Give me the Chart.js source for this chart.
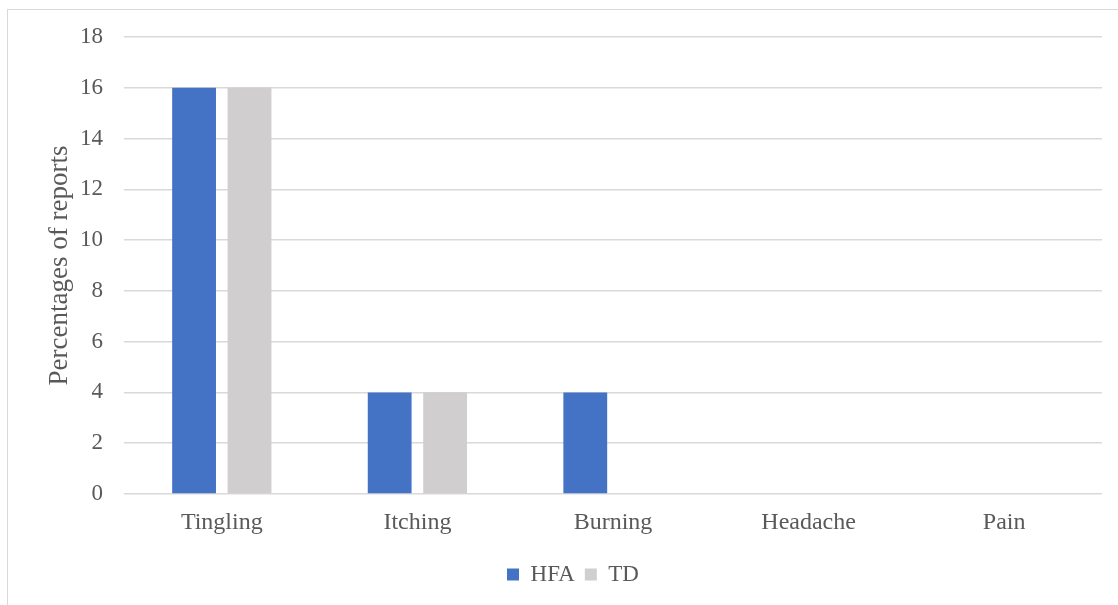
<!DOCTYPE html>
<html>
<head>
<meta charset="utf-8">
<script src="https://cdn.jsdelivr.net/npm/chart.js@4/dist/chart.umd.min.js"></script>
<style>
  html, body { margin: 0; padding: 0; background: #fff; }
  #wrap { position: relative; width: 1118px; height: 605px; overflow: hidden; }
  #frame { position: absolute; left: 7px; top: 9px; width: 1130px; height: 620px; border: 1px solid #d9d9d9; box-sizing: border-box; }
  canvas { position: absolute; left: 0; top: 0; }
</style>
</head>
<body>
<div id="wrap">
  <div id="frame"></div>
  <canvas id="chart" width="1118" height="605"></canvas>
</div>
<script>
// Chart data
const categories = ['Tingling', 'Itching', 'Burning', 'Headache', 'Pain'];
const hfaValues = [16, 4, 4, 0, 0];
const tdValues = [16, 4, 0, 0, 0];
const yTicks = [0, 2, 4, 6, 8, 10, 12, 14, 16, 18];

const textColor = '#595959';
const fontFamily = '"Liberation Serif", "Times New Roman", serif';

const ctx = document.getElementById('chart').getContext('2d');
new Chart(ctx, {
    type: 'bar',
    data: {
        labels: categories,
        datasets: [
            {
                label: 'HFA',
                data: hfaValues,
                backgroundColor: '#4472c4',
                barPercentage: 0.79,
                categoryPercentage: 0.567
            },
            {
                label: 'TD',
                data: tdValues,
                backgroundColor: '#d0cece',
                barPercentage: 0.79,
                categoryPercentage: 0.567
            }
        ]
    },
    options: {
        responsive: false,
        animation: false,
        layout: {
            padding: { left: 44, right: 16, top: 37, bottom: 9 }
        },
        plugins: {
            legend: {
                position: 'bottom',
                labels: {
                    boxWidth: 12,
                    boxHeight: 12,
                    color: textColor,
                    font: { family: fontFamily, size: 23 },
                    padding: 10
                }
            },
            tooltip: { enabled: false }
        },
        scales: {
            x: {
                grid: { display: false },
                border: { display: false },
                ticks: {
                    color: textColor,
                    font: { family: fontFamily, size: 24 },
                    padding: 6
                },
                afterFit: function(scale) { scale.height = 59; }
            },
            y: {
                min: 0,
                max: 18,
                afterBuildTicks: function(scale) {
                    scale.ticks = yTicks.map(v => ({ value: v }));
                },
                grid: { color: '#d9d9d9', lineWidth: 1.5, drawTicks: false },
                border: { display: false },
                ticks: {
                    color: textColor,
                    font: { family: fontFamily, size: 23 },
                    padding: 21
                },
                title: {
                    display: true,
                    text: 'Percentages of reports',
                    color: textColor,
                    font: { family: fontFamily, size: 27 },
                    padding: { top: 0, bottom: 0 }
                },
                afterFit: function(scale) { scale.width = 80; }
            }
        }
    }
});
</script>
</body>
</html>
